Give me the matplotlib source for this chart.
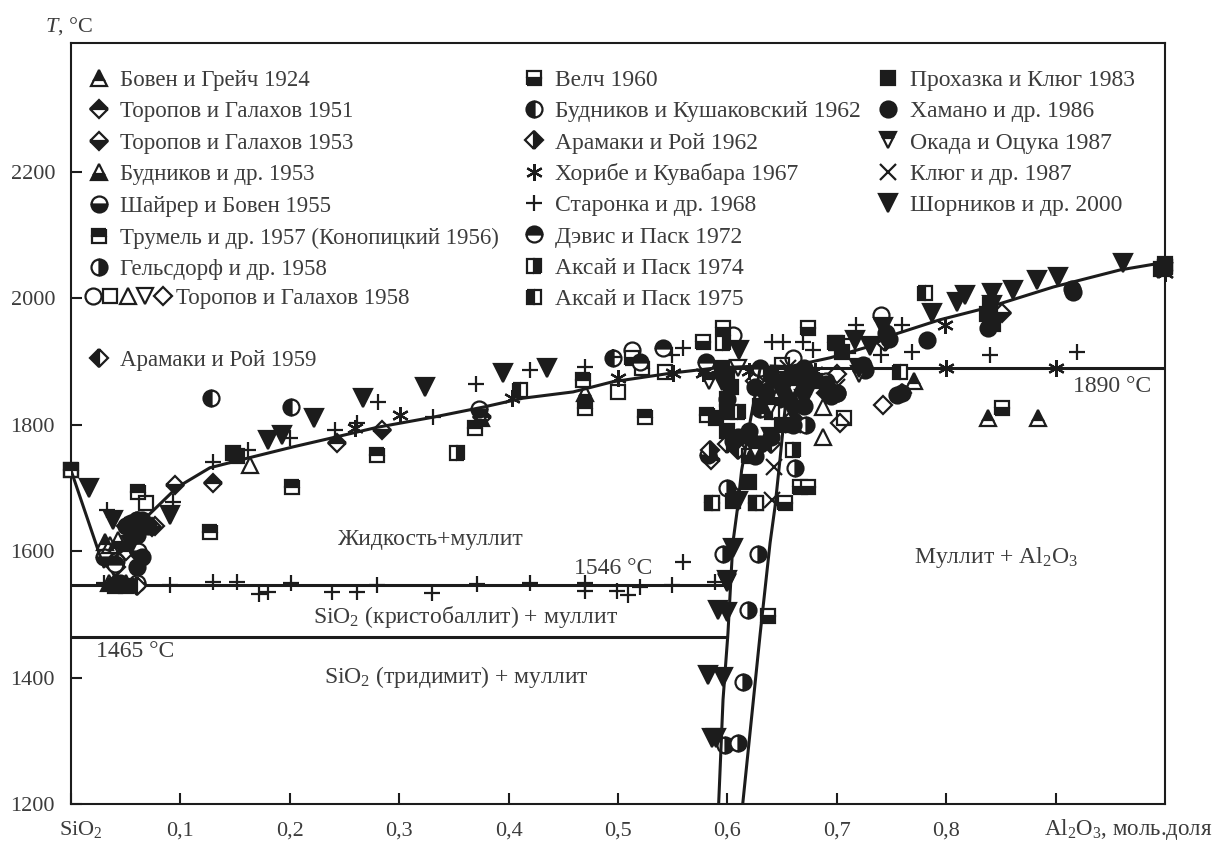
import matplotlib
matplotlib.use("Agg")
import matplotlib.pyplot as plt
from matplotlib.legend import Legend
from matplotlib.legend_handler import HandlerTuple

plt.rcParams['font.family'] = ['Liberation Serif', 'DejaVu Serif']
plt.rcParams['mathtext.fontset'] = 'custom'
plt.rcParams['mathtext.rm'] = 'Liberation Serif'
plt.rcParams['mathtext.it'] = 'Liberation Serif:italic'
plt.rcParams['mathtext.default'] = 'regular'

text_color = '#3c3c3c'
ink = '#1c1c1c'
fontsize = 17

# phase boundaries (mole fraction Al2O3, T in C)
liq_left_x = [0, .03, .051, .069, .097, .127, .161, .203, .243, .280, .331, .377, .413, .459, .495, .550, .590, .63]
liq_left_t = [1728, 1575, 1607, 1654, 1701, 1732, 1747, 1765, 1781, 1796, 1812, 1828, 1842, 1852, 1868, 1882, 1890, 1893]
liq_right_x = [.64, .657, .694, .728, .751, .794, .837, .898, .959, 1]
liq_right_t = [1893, 1892, 1906, 1923, 1942, 1966, 1985, 2018, 2045, 2057]
sol_left_x = [.592, .596, .6005, .605, .609, .613, .621, .630]
sol_left_t = [1200, 1365, 1470, 1613, 1665, 1728, 1807, 1890]
sol_right_x = [.614, .630, .639, .6435, .648, .6535, .657]
sol_right_t = [1200, 1470, 1613, 1670, 1744, 1839, 1890]

# measured points
bowen_x = [.838, .884, .771, .031]
bowen_t = [1811, 1811, 1870, 1614]
top51_x = [.13, .243, .376, .05, .64, .585]
top51_t = [1708, 1771, 1812, 1600, 1860, 1745]
top53_x = [.095, .284, .851, .074, .62, .605]
top53_t = [1705, 1792, 1977, 1638, 1780, 1690]
budn53_x = [.043, .035, .05, .47, .375, .66]
budn53_t = [1618, 1550, 1550, 1850, 1810, 1840]
shairer_x = [.061, .06, .373, .582, .03, .647]
shairer_t = [1600, 1550, 1825, 1752, 1590, 1840]
trumel_x = [.28, .202, .127, .061, .369, .468, .47, .525, .581, .522, .0, .626]
trumel_t = [1752, 1701, 1630, 1693, 1795, 1871, 1826, 1812, 1815, 1890, 1728, 1677]
gelsd_x = [.596, .628, .619, .614, .598, .61, .662, .6, .672]
gelsd_t = [1596, 1596, 1507, 1393, 1293, 1297, 1732, 1700, 1800]
open_o_x = [.74, .605, .041, .513, .66, .69]
open_o_t = [1974, 1942, 1585, 1918, 1905, 1870]
open_s_x = [.5, .543, .0, .069, .65, .707, .71]
open_s_t = [1852, 1883, 1728, 1676, 1895, 1810, 1925]
open_t_x = [.687, .687, .164, .036]
open_t_t = [1780, 1828, 1737, 1610]
open_v_x = [.6, .61, .04]
open_v_t = [1550, 1890, 1570]
open_d_x = [.742, .703, .077, .041, .625, .7]
open_d_t = [1831, 1803, 1640, 1575, 1870, 1880]
aram59_x = [.041, .06, .05, .058, .61, .64, .69]
aram59_t = [1550, 1545, 1640, 1640, 1760, 1770, 1850]
welch_x = [.596, .674, .698, .578, .851, .666, .586, .513, .637, .653, .62, .674]
welch_t = [1953, 1953, 1929, 1931, 1826, 1701, 1677, 1905, 1497, 1677, 1750, 1701]
budn62_x = [.128, .201, .06, .495, .7, .63]
budn62_t = [1842, 1828, 1650, 1905, 1850, 1825]
aram62_x = [.744, .584, .6, .66, .76]
aram62_t = [1931, 1760, 1770, 1810, 1850]
horibe_x = [.80, .90, .799, .403, .5, .55, .578, .301, .26, 1.0, .62, .68]
horibe_t = [1890, 1890, 1958, 1842, 1874, 1882, 1882, 1815, 1795, 2040, 1885, 1885]
staronka_x = [.0905, .13, .152, .172, .18, .201, .239, .261, .28, .33, .371, .42, .47, .47, .499, .509, .52, .549, .559, .589,
              .033, .093, .162, .13, .2, .241, .261, .281, .331, .37, .42, .47, .495, .559, .549,
              .718, .76, .769, .84, .92, .74, .641, .651, .669, .678, .58, .03]
staronka_t = [1546, 1551, 1551, 1533, 1535, 1549, 1535, 1535, 1546, 1534, 1548, 1549, 1549, 1537, 1537, 1530, 1543, 1546, 1583, 1551,
              1665, 1678, 1760, 1741, 1779, 1792, 1803, 1836, 1812, 1864, 1887, 1891, 1907, 1921, 1910,
              1958, 1958, 1915, 1910, 1915, 1910, 1931, 1931, 1931, 1918, 1880, 1550]
davis_x = [.541, .04, .52, .63, .67, .58]
davis_t = [1921, 1580, 1900, 1890, 1880, 1900]
aksai74_x = [.353, .596, .61, .66, 1.0]
aksai74_t = [1755, 1930, 1820, 1760, 2050]
aksai75_x = [.41, .781, .758, .641, .586, .626]
aksai75_t = [1855, 2008, 1883, 1820, 1677, 1677]
proch_x = [.148, .152, 1.0, .59, .6, .605, .62, .63, .65, .66, .67, .64, .68, .595,
           .6, .603, .6, .6, .7, .705, .84, .837, .843, .04, .05, .996, 1.0]
proch_t = [1755, 1750, 2050, 1810, 1790, 1680, 1710, 1830, 1800, 1880, 1860, 1880, 1870, 1890,
           1880, 1860, 1840, 1820, 1930, 1915, 1990, 1975, 1960, 1545, 1545, 2046, 2055]
hamano_x = [.916, .838, .782, .755, .76, .726, .055, .045, .06, .915, .6, .61, .64, .66, .67,
            .625, .635, .65, .655, .665, .67, .672, .62, .63, .625, .605, .05, .06, .065, .07, .69, .7, .695, .724, .745, .748, .06, .065]
hamano_t = [2010, 1953, 1934, 1847, 1850, 1887, 1645, 1550, 1650, 2015, 1840, 1780, 1780, 1800, 1890,
            1860, 1850, 1870, 1845, 1860, 1830, 1880, 1790, 1770, 1750, 1775, 1640, 1625, 1650, 1640, 1865, 1850, 1845, 1895, 1945, 1935, 1575, 1590]
okada_x = [.6, .72, .583, .625, .64, .66]
okada_t = [1552, 1880, 1870, 1760, 1830, 1860]
klug_x = [.643, .641, .66, .7, 1.0, .655]
klug_t = [1733, 1681, 1800, 1860, 2045, 1890]
shorn_x = [.016, .038, .0905, .222, .267, .324, .18, .193, .395, .435, .883, .902, .861, .842, .817, .81, .787, .962, .717, .611, .742,
           .591, .60, .582, .596, .59, .586, .605, .6, .67, .66, .64, .61, .595, .73, .72, .65, .842, .055, .065]
shorn_t = [1700, 1649, 1657, 1811, 1842, 1860, 1776, 1784, 1882, 1890, 2029, 2034, 2013, 2008, 2005, 1994, 1977, 2056, 1934, 1918, 1955,
           1507, 1504, 1404, 1401, 1304, 1304, 1605, 1554, 1840, 1820, 1780, 1680, 1870, 1925, 1890, 1850, 1990, 1610, 1630]

y_ticks = [1200, 1400, 1600, 1800, 2000, 2200]
x_ticks = [0, .1, .2, .3, .4, .5, .6, .7, .8, .9]
x_tick_labels = ['', '0,1', '0,2', '0,3', '0,4', '0,5', '0,6', '0,7', '0,8', '']

fig = plt.figure(figsize=(12.14, 8.41), dpi=100)
ax = fig.add_axes([71 / 1214, 37 / 841, 1094 / 1214, 761 / 841])
ax.set_xlim(0, 1)
ax.set_ylim(1200, 2404)


def pts(xs, ts, marker, fill='full', ms=10.5, mew=1.6):
	line, = ax.plot(xs, ts, ls='none', marker=marker, fillstyle=fill, ms=ms,
	                markerfacecolor=ink, markerfacecoloralt='white',
	                markeredgecolor=ink, markeredgewidth=mew, clip_on=False, zorder=3)
	return line


bowen = pts(bowen_x, bowen_t, '^', 'top', ms=11.5)
top51 = pts(top51_x, top51_t, 'D', 'top', ms=9)
top53 = pts(top53_x, top53_t, 'D', 'bottom', ms=9)
budn53 = pts(budn53_x, budn53_t, '^', 'bottom', ms=11.5)
shairer = pts(shairer_x, shairer_t, 'o', 'bottom', ms=11.5)
trumel = pts(trumel_x, trumel_t, 's', 'top')
gelsd = pts(gelsd_x, gelsd_t, 'o', 'right', ms=11.5)
open_o = pts(open_o_x, open_o_t, 'o', 'none', ms=11.5)
open_s = pts(open_s_x, open_s_t, 's', 'none')
open_t = pts(open_t_x, open_t_t, '^', 'none', ms=11.5)
open_v = pts(open_v_x, open_v_t, 'v', 'none', ms=11.5)
open_d = pts(open_d_x, open_d_t, 'D', 'none', ms=9)
aram59 = pts(aram59_x, aram59_t, 'D', 'left', ms=9)
welch = pts(welch_x, welch_t, 's', 'bottom')
budn62 = pts(budn62_x, budn62_t, 'o', 'left', ms=11.5)
aram62 = pts(aram62_x, aram62_t, 'D', 'right', ms=9)
horibe = pts(horibe_x, horibe_t, (6, 2, 0), ms=12)
staronka = pts(staronka_x, staronka_t, '+', ms=12)
davis = pts(davis_x, davis_t, 'o', 'top', ms=11.5)
aksai74 = pts(aksai74_x, aksai74_t, 's', 'right')
aksai75 = pts(aksai75_x, aksai75_t, 's', 'left')
proch = pts(proch_x, proch_t, 's')
hamano = pts(hamano_x, hamano_t, 'o', ms=11.5)
okada = pts(okada_x, okada_t, 'v', 'top', ms=12)
klug = pts(klug_x, klug_t, 'x', ms=11)
shorn = pts(shorn_x, shorn_t, 'v', ms=12.5)

# phase diagram lines
for xs, ts in [(liq_left_x, liq_left_t), (liq_right_x, liq_right_t),
               (sol_left_x, sol_left_t), (sol_right_x, sol_right_t)]:
	ax.plot(xs, ts, color=ink, lw=2.2, zorder=4)
ax.plot([0, .596], [1546, 1546], color=ink, lw=2.2, zorder=2)
ax.plot([0, .6], [1465, 1465], color=ink, lw=2.2, zorder=2)
ax.plot([.6, 1], [1890, 1890], color=ink, lw=2.2, zorder=2)

ax.set_xticks(x_ticks, x_tick_labels, fontsize=16, color=text_color)
ax.set_yticks(y_ticks, [str(t) for t in y_ticks], fontsize=16, color=text_color)
ax.tick_params(direction='in', length=8, width=1.5, color=ink)
ax.tick_params(axis='x', pad=12.5)
ax.tick_params(axis='y', pad=11.5)
for s in ax.spines.values():
	s.set_linewidth(1.5)
	s.set_color(ink)


def col_legend(handles, labels, left, top, size=17, spacing=.46, handlelength=1.4, **kw):
	leg = Legend(ax, handles, labels, loc='upper left', bbox_to_anchor=(left, top), frameon=False,
	             fontsize=size, labelspacing=spacing, labelcolor=text_color, borderpad=0,
	             borderaxespad=0, handlelength=handlelength, handletextpad=.22, numpoints=1, **kw)
	ax.add_artist(leg)
	return leg


col_legend([bowen, top51, top53, budn53, shairer, trumel, gelsd],
           ['Бовен и Грейч 1924', 'Торопов и Галахов 1951', 'Торопов и Галахов 1953', 'Будников и др. 1953',
            'Шайрер и Бовен 1955', 'Трумель и др. 1957 (Конопицкий 1956)', 'Гельсдорф и др. 1958'],
           .011, .965, size=16.5)
col_legend([(open_o, open_s, open_t, open_v, open_d)], ['Торопов и Галахов 1958'], .012, .678, size=16.5,
           handler_map={tuple: HandlerTuple(ndivide=None, pad=0)}, handlelength=3.8)
col_legend([aram59], ['Арамаки и Рой 1959'], .011, .597, size=16.5)
col_legend([welch, budn62, aram62, horibe, staronka, davis, aksai74, aksai75],
           ['Велч 1960', 'Будников и Кушаковский 1962', 'Арамаки и Рой 1962', 'Хорибе и Кувабара 1967',
            'Старонка и др. 1968', 'Дэвис и Паск 1972', 'Аксай и Паск 1974', 'Аксай и Паск 1975'],
           .4077, .965, spacing=.41)
col_legend([proch, hamano, okada, klug, shorn],
           ['Прохазка и Клюг 1983', 'Хамано и др. 1986', 'Окада и Оцука 1987', 'Клюг и др. 1987', 'Шорников и др. 2000'],
           .732, .965, spacing=.41)

# region labels
ax.text(.329, 1619, 'Жидкость+муллит', fontsize=fontsize, color=text_color, ha='center', va='center')
ax.text(.8455, 1590, 'Муллит + Al$_2$O$_3$', fontsize=fontsize, color=text_color, ha='center', va='center')
ax.text(.496, 1572, '1546 °C', fontsize=fontsize, color=text_color, ha='center', va='center')
ax.text(.361, 1496, 'SiO$_2$ (кристобаллит) + муллит', fontsize=fontsize, color=text_color, ha='center', va='center')
ax.text(.0585, 1442, '1465 °C', fontsize=fontsize, color=text_color, ha='center', va='center')
ax.text(.352, 1401, 'SiO$_2$ (тридимит) + муллит', fontsize=fontsize, color=text_color, ha='center', va='center')
ax.text(.952, 1860, '1890 °C', fontsize=fontsize, color=text_color, ha='center', va='center')

fig.text(45 / 1214, 1 - 26 / 841, '$\\mathit{T}$, °C', fontsize=16, color=text_color, va='center')
fig.text(81 / 1214, 1 - 830 / 841, 'SiO$_2$', fontsize=16, color=text_color, ha='center', va='center')
fig.text(1128 / 1214, 1 - 830 / 841, 'Al$_2$O$_3$, моль.доля', fontsize=16.5, color=text_color, ha='center', va='center')

plt.savefig("out.png", dpi=100)
